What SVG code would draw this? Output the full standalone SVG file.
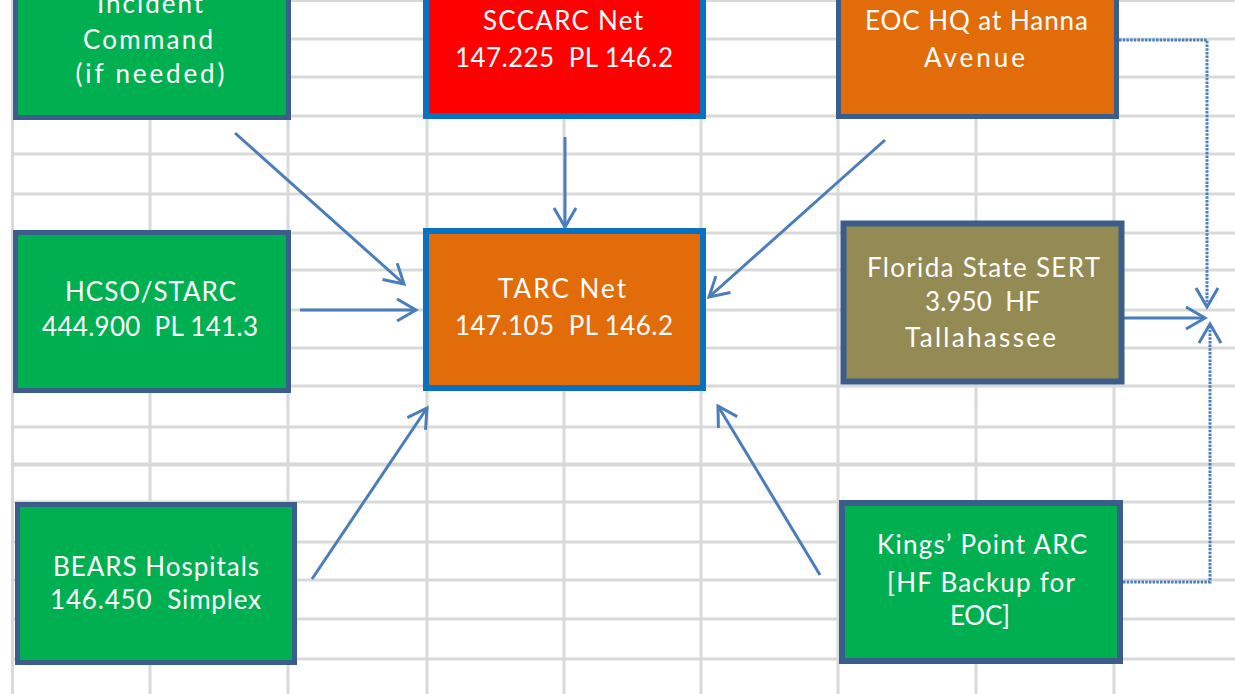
<svg xmlns="http://www.w3.org/2000/svg" width="1235" height="694" viewBox="0 0 1235 694">
<style>
.grid line{stroke:#d9d9d9;stroke-width:3}
.node text{font-family:Lato,"Open Sans","Liberation Sans",sans-serif;font-size:26px;fill:#ffffff;text-anchor:middle}
.bd{stroke:#3a5d8b;stroke-width:5}
.bb{stroke:#0a70c0;stroke-width:6}
.green{fill:#00b050}.orange{fill:#e36c0a}.red{fill:#ff0000}.olive{fill:#948a54}
.conn{stroke:#4a7ebb;stroke-width:3;fill:none;marker-end:url(#ah)}
.dot{stroke:#4a7ebb;stroke-width:3;fill:none;stroke-dasharray:2.5 1.2;marker-end:url(#ah)}
</style>
<defs>
<marker id="ah" markerUnits="userSpaceOnUse" markerWidth="26" markerHeight="26" refX="21" refY="12" orient="auto">
<path d="M2,1 L21,12 L2,23" fill="none" stroke="#4a7ebb" stroke-width="3"/>
</marker>
</defs>
<rect width="1235" height="694" fill="#ffffff"/>
<g class="grid">
<line x1="12.5" y1="0" x2="12.5" y2="694"/>
<line x1="150" y1="0" x2="150" y2="694"/>
<line x1="288" y1="0" x2="288" y2="694"/>
<line x1="427" y1="0" x2="427" y2="694"/>
<line x1="564" y1="0" x2="564" y2="694"/>
<line x1="701" y1="0" x2="701" y2="694"/>
<line x1="838" y1="0" x2="838" y2="694"/>
<line x1="976" y1="0" x2="976" y2="694"/>
<line x1="1114" y1="0" x2="1114" y2="694"/>
<line x1="12" y1="0.5" x2="1235" y2="0.5"/>
<line x1="12" y1="39" x2="1235" y2="39"/>
<line x1="12" y1="77" x2="1235" y2="77"/>
<line x1="12" y1="116" x2="1235" y2="116"/>
<line x1="12" y1="154" x2="1235" y2="154"/>
<line x1="12" y1="194" x2="1235" y2="194"/>
<line x1="12" y1="233" x2="1235" y2="233"/>
<line x1="12" y1="270" x2="1235" y2="270"/>
<line x1="12" y1="310" x2="1235" y2="310"/>
<line x1="12" y1="348" x2="1235" y2="348"/>
<line x1="12" y1="386" x2="1235" y2="386"/>
<line x1="12" y1="427" x2="1235" y2="427"/>
<line x1="12" y1="464.5" x2="1235" y2="464.5" style="stroke-width:4"/>
<line x1="12" y1="502" x2="1235" y2="502"/>
<line x1="12" y1="542" x2="1235" y2="542"/>
<line x1="12" y1="580" x2="1235" y2="580"/>
<line x1="12" y1="619" x2="1235" y2="619"/>
<line x1="12" y1="659" x2="1235" y2="659"/>
</g>
<g id="connectors">
<line class="conn" x1="235" y1="133" x2="404" y2="284"/>
<line class="conn" x1="300" y1="310" x2="416" y2="310"/>
<line class="conn" x1="565" y1="137" x2="565" y2="227"/>
<line class="conn" x1="885" y1="140" x2="709" y2="297"/>
<line class="conn" x1="312" y1="579" x2="427" y2="408"/>
<line class="conn" x1="820" y1="575" x2="718" y2="406"/>
<polyline class="dot" points="1119,40 1207,40 1207,307"/>
<line class="conn" x1="1124" y1="318" x2="1205" y2="318"/>
<polyline class="dot" points="1123,582 1210,582 1210,324"/>
</g>
<g id="incident-command" class="node">
<rect class="bd green" x="15.5" y="-5" width="273" height="122.5"/>
<text x="150" y="13" textLength="106">Incident</text>
<text x="148" y="49" textLength="130">Command</text>
<text x="150" y="83" textLength="149">(if needed)</text>
</g>
<g id="sccarc-net" class="node">
<rect class="bb red" x="426" y="-5" width="277" height="121"/>
<text x="563" y="30" textLength="160">SCCARC Net</text>
<text x="564" y="67" textLength="218" xml:space="preserve">147.225  PL 146.2</text>
</g>
<g id="eoc-hq" class="node">
<rect class="bd orange" x="838.5" y="-5" width="278" height="121.5"/>
<text x="976.5" y="30" textLength="223">EOC HQ at Hanna</text>
<text x="974.5" y="67" textLength="101">Avenue</text>
</g>
<g id="hcso-starc" class="node">
<rect class="bd green" x="15.5" y="232.5" width="273" height="158"/>
<text x="150.5" y="301" textLength="171">HCSO/STARC</text>
<text x="150" y="336" textLength="216" xml:space="preserve">444.900  PL 141.3</text>
</g>
<g id="tarc-net" class="node">
<rect class="bb orange" x="426" y="231" width="277" height="157"/>
<text x="562" y="298" textLength="128">TARC Net</text>
<text x="564" y="335" textLength="218" xml:space="preserve">147.105  PL 146.2</text>
</g>
<g id="florida-sert" class="node">
<rect class="bd olive" x="843.5" y="223.5" width="278" height="158" style="stroke-width:6"/>
<text x="983.5" y="277" textLength="233">Florida State SERT</text>
<text x="982.5" y="311" textLength="115" xml:space="preserve">3.950  HF</text>
<text x="980.5" y="347" textLength="151">Tallahassee</text>
</g>
<g id="bears-hospitals" class="node">
<rect class="bd green" x="17.5" y="504.5" width="277" height="158"/>
<text x="156" y="576" textLength="206">BEARS Hospitals</text>
<text x="155.5" y="609" textLength="211" xml:space="preserve">146.450  Simplex</text>
</g>
<g id="kings-point" class="node">
<rect class="bd green" x="842" y="503" width="278" height="158" style="stroke-width:6"/>
<text x="982" y="554" textLength="210">Kings’ Point ARC</text>
<text x="981" y="592" textLength="188">[HF Backup for</text>
<text x="980" y="625" textLength="60">EOC]</text>
</g>
</svg>
